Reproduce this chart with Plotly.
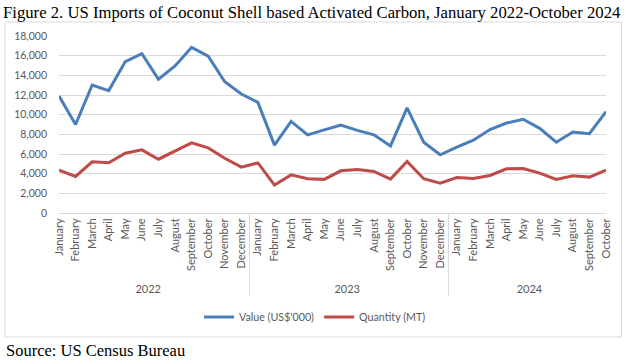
import plotly.graph_objects as go

months_2022 = ["January", "February", "March", "April", "May", "June", "July",
               "August", "September", "October", "November", "December"]
months_2023 = months_2022[:]
months_2024 = months_2022[:10]
years = ["2022"] * 12 + ["2023"] * 12 + ["2024"] * 10
months = months_2022 + months_2023 + months_2024

value_usd_000 = [11900, 9000, 13000, 12450, 15400, 16200, 13600, 14950, 16850, 15950, 13350, 12100,
                 11250, 6900, 9320, 7950, 8450, 8950, 8400, 7950, 6820, 10700, 7200, 5920,
                 6690, 7400, 8480, 9150, 9530, 8610, 7200, 8240, 8070, 10300]
quantity_mt = [4360, 3720, 5200, 5100, 6080, 6420, 5470, 6300, 7130, 6620, 5570, 4660,
               5100, 2840, 3880, 3480, 3420, 4290, 4430, 4220, 3450, 5240, 3480, 3040,
               3610, 3510, 3820, 4490, 4530, 4050, 3410, 3780, 3650, 4360]

y_ticks = [0, 2000, 4000, 6000, 8000, 10000, 12000, 14000, 16000, 18000]

W, H = 630, 362
L, R, T, B = 59, 24, 36, 149
pw, ph = W - L - R, H - T - B

def px_x(px):
    return (px - L) / pw

def px_y(py):
    return (H - B - py) / ph

fig = go.Figure()
fig.add_trace(go.Scatter(x=[years, months], y=value_usd_000, mode="lines",
                         name="Value (US$'000)", line=dict(color="#4A7EBB", width=3)))
fig.add_trace(go.Scatter(x=[years, months], y=quantity_mt, mode="lines",
                         name="Quantity (MT)", line=dict(color="#BE4B48", width=3)))

font_family = "Lato, Open Sans, sans-serif"
x_font = dict(family=font_family, size=11, color="#595959")
y_font = dict(family=font_family, size=10.5, color="#595959")
legend_font = dict(family=font_family, size=10.7, color="#595959")

fig.update_layout(
    width=W, height=H,
    margin=dict(l=L, r=R, t=T, b=B),
    paper_bgcolor="white", plot_bgcolor="white",
    font=y_font,
    title=dict(text="Figure 2. US Imports of Coconut Shell based Activated Carbon, January 2022-October 2024",
               font=dict(family="Liberation Serif, serif", size=16.7, color="black"),
               xref="container", x=3 / W, xanchor="left",
               yref="container", y=1 - 12 / H, yanchor="middle"),
    showlegend=True,
    legend=dict(orientation="h", x=px_x(315), xanchor="center", y=px_y(317), yanchor="middle",
                font=legend_font, itemwidth=30, bgcolor="rgba(0,0,0,0)"),
    xaxis=dict(type="multicategory", tickangle=-90, showgrid=False,
               showline=True, linecolor="#D9D9D9", linewidth=1,
               showdividers=True, dividercolor="#D9D9D9", dividerwidth=1,
               ticks="", tickfont=x_font),
    yaxis=dict(range=[0, 18000], tickvals=y_ticks, tickformat=",d",
               showgrid=True, gridcolor="#D9D9D9", gridwidth=1,
               zeroline=False, showline=False, ticks="",
               ticklabelstandoff=11, tickfont=y_font),
    shapes=[dict(type="rect", xref="paper", yref="paper",
                 x0=px_x(5), x1=px_x(621.5), y0=px_y(337), y1=px_y(22),
                 line=dict(color="#D9D9D9", width=1), fillcolor="rgba(0,0,0,0)", layer="below")],
    annotations=[dict(text="Source: US Census Bureau", xref="paper", yref="paper",
                      x=px_x(4), y=px_y(350), xanchor="left", yanchor="middle", showarrow=False,
                      font=dict(family="Liberation Serif, serif", size=16.5, color="black"))],
)

fig.write_html("out.html", config={"displayModeBar": False},
               post_script="document.body.style.margin='0';")
